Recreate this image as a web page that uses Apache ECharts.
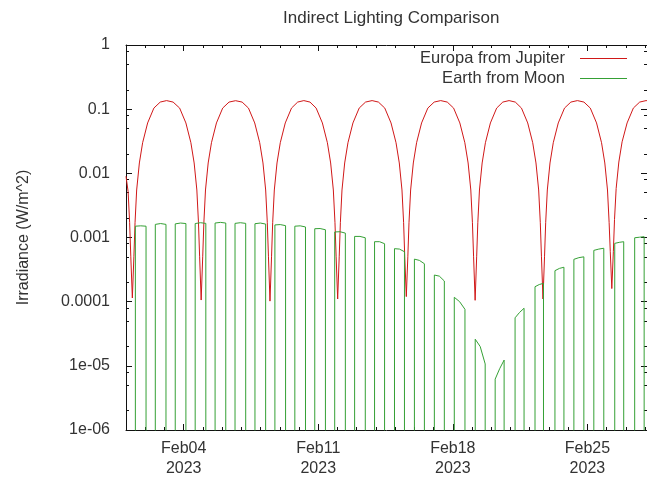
<!DOCTYPE html>
<html><head><meta charset="utf-8">
<script src="https://cdn.jsdelivr.net/npm/echarts@6/dist/echarts.min.js"></script>
<style>html,body{margin:0;padding:0;background:#fff}#c{width:647px;height:480px}</style>
</head><body><div id="c"></div>
<script>
// x values are days since 2023-02-01 00:00
const chartTitle = 'Indirect Lighting Comparison';
const yAxisName = 'Irradiance (W/m^2)';
const xMin = 0;
const xMax = 27.1;
const xTickDays = [3, 10, 17, 24];
const xTickLabels = ['Feb04', 'Feb11', 'Feb18', 'Feb25'];
const xTickYear = '2023';
const yTickValues = [1e-6, 1e-5, 1e-4, 1e-3, 1e-2, 1e-1, 1];
const yTickLabels = ['1e-06', '1e-05', '0.0001', '0.001', '0.01', '0.1', '1'];
const yMinorTicks = [2e-6, 5e-6, 8e-6, 2e-5, 5e-5, 8e-5, 2e-4, 5e-4, 8e-4, 2e-3, 5e-3, 8e-3, 2e-2, 5e-2, 8e-2, 0.2, 0.5, 0.8];
const seriesNames = ['Europa from Jupiter', 'Earth from Moon'];

const europaDays = [
  0, 0.11, 0.19, 0.25, 0.33, 0.41, 0.47, 0.555, 0.695, 0.865, 1.125, 1.45, 1.78, 2.11, 2.45, 2.79, 3.115, 3.375, 3.545, 3.685, 3.77, 3.83, 3.91,
  3.99, 4.05, 4.135, 4.275, 4.445, 4.705, 5.03, 5.36, 5.70, 6.04, 6.37, 6.695, 6.955, 7.125, 7.265, 7.35, 7.41, 7.49,
  7.57, 7.63, 7.715, 7.855, 8.025, 8.285, 8.61, 8.93, 9.25, 9.57, 9.89, 10.215, 10.475, 10.645, 10.785, 10.87, 10.93, 11.01,
  11.09, 11.15, 11.235, 11.375, 11.545, 11.805, 12.13, 12.46, 12.80, 13.13, 13.46, 13.785, 14.045, 14.215, 14.355, 14.44, 14.50, 14.58,
  14.66, 14.72, 14.805, 14.945, 15.115, 15.375, 15.70, 16.03, 16.37, 16.71, 17.04, 17.365, 17.625, 17.795, 17.935, 18.02, 18.08, 18.16,
  18.24, 18.30, 18.385, 18.525, 18.695, 18.955, 19.28, 19.60, 19.925, 20.25, 20.57, 20.895, 21.155, 21.325, 21.465, 21.55, 21.61, 21.69,
  21.77, 21.83, 21.915, 22.055, 22.225, 22.485, 22.81, 23.14, 23.48, 23.82, 24.15, 24.475, 24.735, 24.905, 25.045, 25.13, 25.19, 25.27,
  25.35, 25.41, 25.495, 25.635, 25.805, 26.065, 26.39, 26.72, 27.05, 27.3
];
const europaIrradiance = [
  0.009, 0.0052, 0.0017, 0.0005, 1.14e-4, 0.0005, 0.0017, 0.0055, 0.0145, 0.030, 0.061, 0.104, 0.129, 0.136, 0.129, 0.104, 0.061, 0.030, 0.0145, 0.0055, 0.0017, 0.0005, 1.06e-4,
  0.0005, 0.0017, 0.0055, 0.0145, 0.030, 0.061, 0.104, 0.129, 0.1355, 0.129, 0.104, 0.061, 0.030, 0.0145, 0.0055, 0.0017, 0.0005, 1.02e-4,
  0.0005, 0.0017, 0.0055, 0.0145, 0.030, 0.061, 0.104, 0.129, 0.136, 0.129, 0.104, 0.061, 0.030, 0.0145, 0.0055, 0.0017, 0.0005, 1.1e-4,
  0.0005, 0.0017, 0.0055, 0.0145, 0.030, 0.061, 0.104, 0.129, 0.136, 0.129, 0.104, 0.061, 0.030, 0.0145, 0.0055, 0.0017, 0.0005, 1.2e-4,
  0.0005, 0.0017, 0.0055, 0.0145, 0.030, 0.061, 0.104, 0.129, 0.136, 0.129, 0.104, 0.061, 0.030, 0.0145, 0.0055, 0.0017, 0.0005, 1.05e-4,
  0.0005, 0.0017, 0.0055, 0.0145, 0.030, 0.061, 0.104, 0.129, 0.136, 0.129, 0.104, 0.061, 0.030, 0.0145, 0.0055, 0.0017, 0.0005, 1.1e-4,
  0.0005, 0.0017, 0.0055, 0.0145, 0.030, 0.061, 0.104, 0.129, 0.136, 0.129, 0.104, 0.061, 0.030, 0.0145, 0.0055, 0.0017, 0.0006, 1.6e-4,
  0.0006, 0.0019, 0.0058, 0.015, 0.031, 0.061, 0.104, 0.129, 0.136, 0.134
];

// Earth-from-Moon: visibility windows (days) and irradiance at start / middle / end of each window
const moonRiseDays = [0.487, 1.524, 2.561, 3.598, 4.634, 5.671, 6.708, 7.745, 8.782, 9.818, 10.855, 11.892, 12.929, 13.966, 15.002, 16.039, 17.076, 18.165, 19.202, 20.238, 21.275, 22.312, 23.297, 24.334, 25.422, 26.459];
const moonSetDays  = [1.042, 2.079, 3.116, 4.152, 5.189, 6.226, 7.263, 8.300, 9.336, 10.373, 11.410, 12.447, 13.45, 14.484, 15.521, 16.558, 17.631, 18.683, 19.668, 20.705, 21.716, 22.779, 23.815, 24.852, 25.889, 26.952];
const moonStartIrr = [0.00150, 0.00160, 0.00163, 0.00165, 0.00168, 0.00166, 0.00164, 0.00157, 0.00150, 0.00137, 0.00122, 0.00104, 0.00086, 0.00067, 0.00046, 0.00026, 1.17e-4, 2.6e-5, 6.2e-6, 5.6e-5, 1.71e-4, 3.04e-4, 4.57e-4, 6.3e-4, 8.1e-4, 9.9e-4];
const moonMidIrr   = [0.00152, 0.00165, 0.00168, 0.00170, 0.00172, 0.00170, 0.00168, 0.00159, 0.00152, 0.00138, 0.00123, 0.00104, 0.00086, 0.00066, 0.00044, 0.00025, 1.0e-4, 2.0e-5, 9.0e-6, 6.8e-5, 1.85e-4, 3.3e-4, 4.85e-4, 6.6e-4, 8.4e-4, 1.01e-3];
const moonEndIrr   = [0.00150, 0.00160, 0.00165, 0.00166, 0.00168, 0.00166, 0.00162, 0.00153, 0.00146, 0.00132, 0.00117, 0.00099, 0.00080, 0.00060, 0.00039, 0.00021, 7.6e-5, 1.07e-5, 1.23e-5, 7.9e-5, 1.93e-4, 3.44e-4, 5.0e-4, 6.8e-4, 8.6e-4, 1.03e-3];
const moonOffIrr = 1e-9; // below the plotted range while the Moon is down

const FONT = 'Liberation Sans';
const TXT = '#333';
const AX = '#111';
const RED = '#d01818';
const GREEN = '#35a035';

const europaData = europaDays.map((d, i) => [d, europaIrradiance[i]]);
const moonData = [[0, moonOffIrr]];
moonRiseDays.forEach((r, i) => {
  const s = moonSetDays[i];
  moonData.push([r, moonOffIrr], [r, moonStartIrr[i]], [(r + s) / 2, moonMidIrr[i]], [s, moonEndIrr[i]], [s, moonOffIrr]);
});
moonData.push([xMax + 1, moonOffIrr]);

function xAx(pos, major, withLabel, withLine) {
  return {
    type: 'value', position: pos, min: xMin, max: xMax,
    interval: major ? undefined : 1,
    splitLine: { show: false },
    axisLine: { show: withLine, onZero: false, lineStyle: { color: AX, width: 1 } },
    axisTick: major
      ? { show: true, inside: true, length: 6, customValues: xTickDays, lineStyle: { color: AX } }
      : { show: true, inside: true, length: 3, lineStyle: { color: AX } },
    axisLabel: withLabel ? {
      show: true, customValues: xTickDays, margin: 9, color: TXT, fontFamily: FONT, fontSize: 16, lineHeight: 20,
      formatter: v => { const i = xTickDays.findIndex(t => Math.abs(t - v) < 1e-6); return i < 0 ? '' : xTickLabels[i] + '\n' + xTickYear; }
    } : { show: false }
  };
}
function yAx(pos, major, withLabel, withLine) {
  return {
    type: 'log', logBase: 10, position: pos, min: 1e-6, max: 1,
    splitLine: { show: false }, minorTick: { show: false },
    axisLine: { show: withLine, onZero: false, lineStyle: { color: AX, width: 1 } },
    axisTick: { show: true, inside: true, length: major ? 6 : 3, customValues: major ? yTickValues : yMinorTicks, lineStyle: { color: AX } },
    axisLabel: withLabel ? {
      show: true, customValues: yTickValues, margin: 16, color: TXT, fontFamily: FONT, fontSize: 16,
      formatter: v => { const i = yTickValues.findIndex(t => Math.abs(Math.log10(t) - Math.log10(v)) < 1e-6); return i < 0 ? '' : yTickLabels[i]; }
    } : { show: false },
    name: withLabel ? yAxisName : '',
    nameLocation: 'middle', nameRotate: 90, nameGap: 94,
    nameTextStyle: { color: TXT, fontFamily: FONT, fontSize: 16 }
  };
}

const legendCommon = {
  orient: 'vertical', right: 20, align: 'right', icon: 'rect', itemWidth: 47, itemHeight: 1, padding: 0,
  selectedMode: false,
  textStyle: { color: TXT, fontFamily: FONT, fontSize: 16.5, padding: [0, 10, 0, 0] }
};

const chart = echarts.init(document.getElementById('c'), null, { renderer: 'canvas' });
chart.setOption({
  animation: false,
  backgroundColor: '#fff',
  title: { text: chartTitle, left: 278, top: 5, textStyle: { color: TXT, fontFamily: FONT, fontSize: 17, fontWeight: 'normal' } },
  legend: [
    Object.assign({}, legendCommon, { top: 50, data: [seriesNames[0]] }),
    Object.assign({}, legendCommon, { top: 70, data: [seriesNames[1]] })
  ],
  grid: { left: 126, right: -1, top: 45, bottom: 50 },
  xAxis: [xAx('bottom', true, true, true), xAx('bottom', false, false, false), xAx('top', true, false, true), xAx('top', false, false, false)],
  yAxis: [yAx('left', true, true, true), yAx('left', false, false, false), yAx('right', true, false, true), yAx('right', false, false, false)],
  series: [
    { name: seriesNames[0], type: 'line', data: europaData, symbol: 'none', clip: true, lineStyle: { color: RED, width: 1 }, itemStyle: { color: RED } },
    { name: seriesNames[1], type: 'line', data: moonData, symbol: 'none', clip: true, lineStyle: { color: GREEN, width: 1 }, itemStyle: { color: GREEN } }
  ]
});
</script>
</body></html>
